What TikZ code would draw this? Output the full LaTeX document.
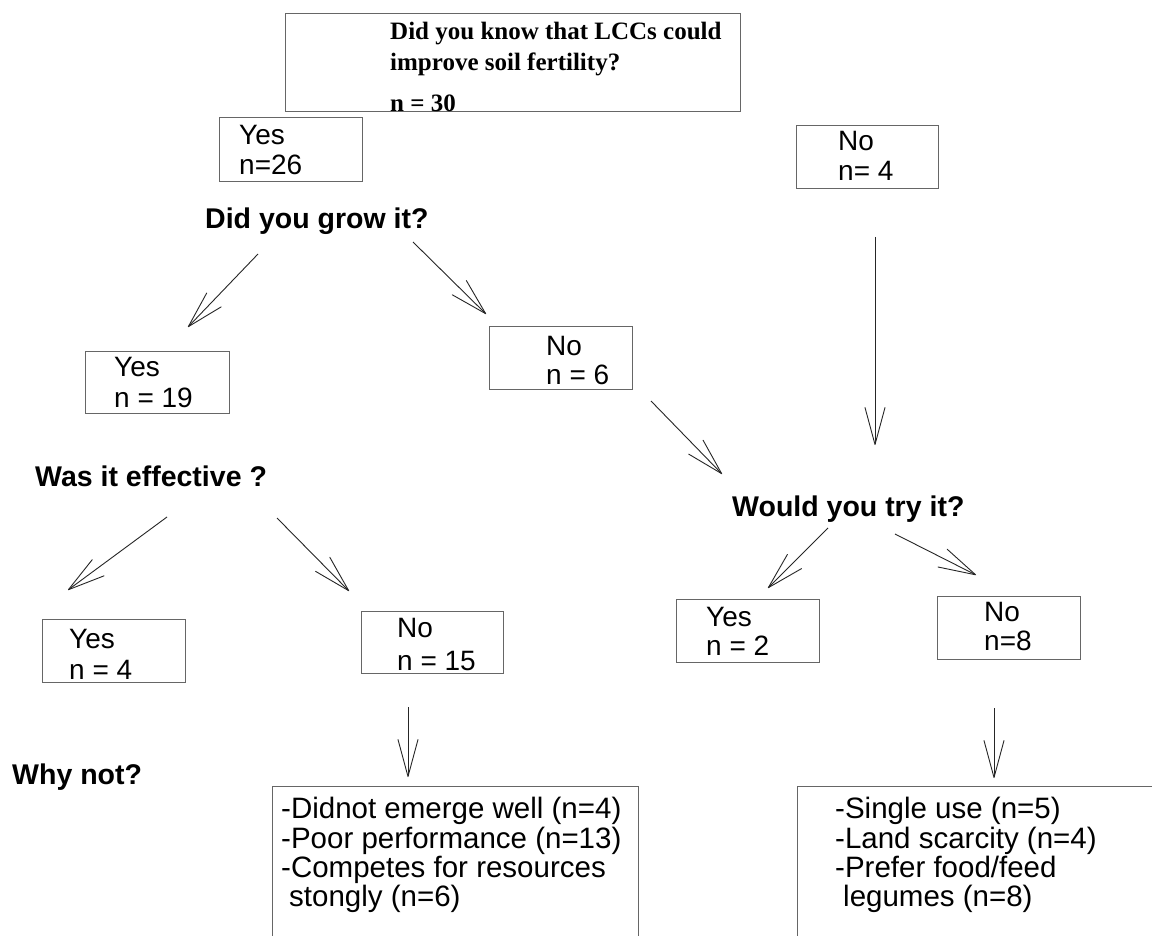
\documentclass[tikz,border=0pt]{standalone}
\usepackage{fontspec}
\setmainfont{Liberation Sans}
\newfontfamily\timesfam{Liberation Serif}
\usetikzlibrary{arrows.meta}
\begin{document}
\begin{tikzpicture}[x=1pt,y=-1pt,
  box/.style={draw=black!60, line width=1.2pt, anchor=north west, inner sep=0pt},
  lbl/.style={anchor=base west, inner sep=0pt, font=\fontsize{28}{30}\selectfont},
  lst/.style={anchor=base west, inner sep=0pt, font=\fontsize{29.5}{30}\selectfont},
  qst/.style={anchor=base west, inner sep=0pt, font=\fontsize{28.5}{30}\selectfont\bfseries},
  ttl/.style={anchor=base west, inner sep=0pt, font=\fontsize{25}{28}\selectfont\timesfam\bfseries},
  arr/.style={draw=black!85, line width=0.9pt, -{Straight Barb[length=37pt,width=20pt,round]}},
]
\path[use as bounding box, clip] (0,0) rectangle (1152,936);
\fill[white] (0,0) rectangle (1152,936);

% boxes
\node[box, minimum width=455pt, minimum height=98pt] (top) at (285,13) {};
\node[box, minimum width=143pt, minimum height=64pt] (yes26) at (219,117) {};
\node[box, minimum width=142pt, minimum height=63pt] (no4) at (796,125) {};
\node[box, minimum width=144pt, minimum height=62pt] (yes19) at (85,351) {};
\node[box, minimum width=143pt, minimum height=63pt] (no6) at (489,326) {};
\node[box, minimum width=143pt, minimum height=63pt] (yes4) at (42,619) {};
\node[box, minimum width=142pt, minimum height=62pt] (no15) at (361,611) {};
\node[box, minimum width=143pt, minimum height=63pt] (yes2) at (676,599) {};
\node[box, minimum width=143pt, minimum height=63pt] (no8) at (937,596) {};
\node[box, minimum width=366pt, minimum height=200pt] (whyL) at (272,786) {};
\node[box, minimum width=400pt, minimum height=200pt] (whyR) at (797,786) {};

% top box text
\node[ttl] (t1) at (390,40) {Did you know that LCCs could};
\node[ttl] (t2) at (390,71) {improve soil fertility?};
\node[ttl] (t3) at (390,112) {n = 30};

% box labels
\node[lbl] (yes26a) at (239,145) {Yes};
\node[lbl] (yes26b) at (239,175) {n=26};
\node[lbl] (no4a) at (838,151) {No};
\node[lbl] (no4b) at (838,181) {n= 4};
\node[lbl] (yes19a) at (114,376) {Yes};
\node[lbl] (yes19b) at (114,407) {n = 19};
\node[lbl] (no6a) at (546,355) {No};
\node[lbl] (no6b) at (546,384) {n = 6};
\node[lbl] (yes4a) at (69,648) {Yes};
\node[lbl] (yes4b) at (69,679) {n = 4};
\node[lbl] (no15a) at (397,637) {No};
\node[lbl] (no15b) at (397,670) {n = 15};
\node[lbl] (yes2a) at (706,626) {Yes};
\node[lbl] (yes2b) at (706,655) {n = 2};
\node[lbl] (no8a) at (984,621) {No};
\node[lbl] (no8b) at (984,650) {n=8};

% questions
\node[qst] (qgrow) at (205,229) {Did you grow it?};
\node[qst] (qeff) at (35,486) {Was it effective ?};
\node[qst] (qtry) at (732,516) {Would you try it?};
\node[qst] (qwhy) at (12,784) {Why not?};

% lists
\node[lst] (l1) at (281,818) {-Didnot emerge well (n=4)};
\node[lst] (l2) at (281,848) {-Poor performance (n=13)};
\node[lst] (l3) at (281,877) {-Competes for resources};
\node[lst] (l4) at (289,906) {stongly (n=6)};
\node[lst] (r1) at (835,818) {-Single use (n=5)};
\node[lst] (r2) at (835,848) {-Land scarcity (n=4)};
\node[lst] (r3) at (835,877) {-Prefer food/feed};
\node[lst] (r4) at (843,906) {legumes (n=8)};

% arrow end points
\coordinate (a1s) at (258,254); \coordinate (a1e) at (188,327);
\coordinate (a2s) at (413,242); \coordinate (a2e) at (486,314);
\coordinate (a3s) at (875,237); \coordinate (a3e) at (875,445);
\coordinate (a4s) at (651,401); \coordinate (a4e) at (722,474);
\coordinate (a5s) at (167,517); \coordinate (a5e) at (68,590);
\coordinate (a6s) at (277,518); \coordinate (a6e) at (349,591);
\coordinate (a7s) at (828,528); \coordinate (a7e) at (768,588);
\coordinate (a8s) at (895,534); \coordinate (a8e) at (976,575);
\coordinate (a9s) at (408,707); \coordinate (a9e) at (408,777);
\coordinate (a10s) at (994,708); \coordinate (a10e) at (994,778);

\foreach \i in {1,...,10} \draw[arr] (a\i s) -- (a\i e);
\end{tikzpicture}
\end{document}
